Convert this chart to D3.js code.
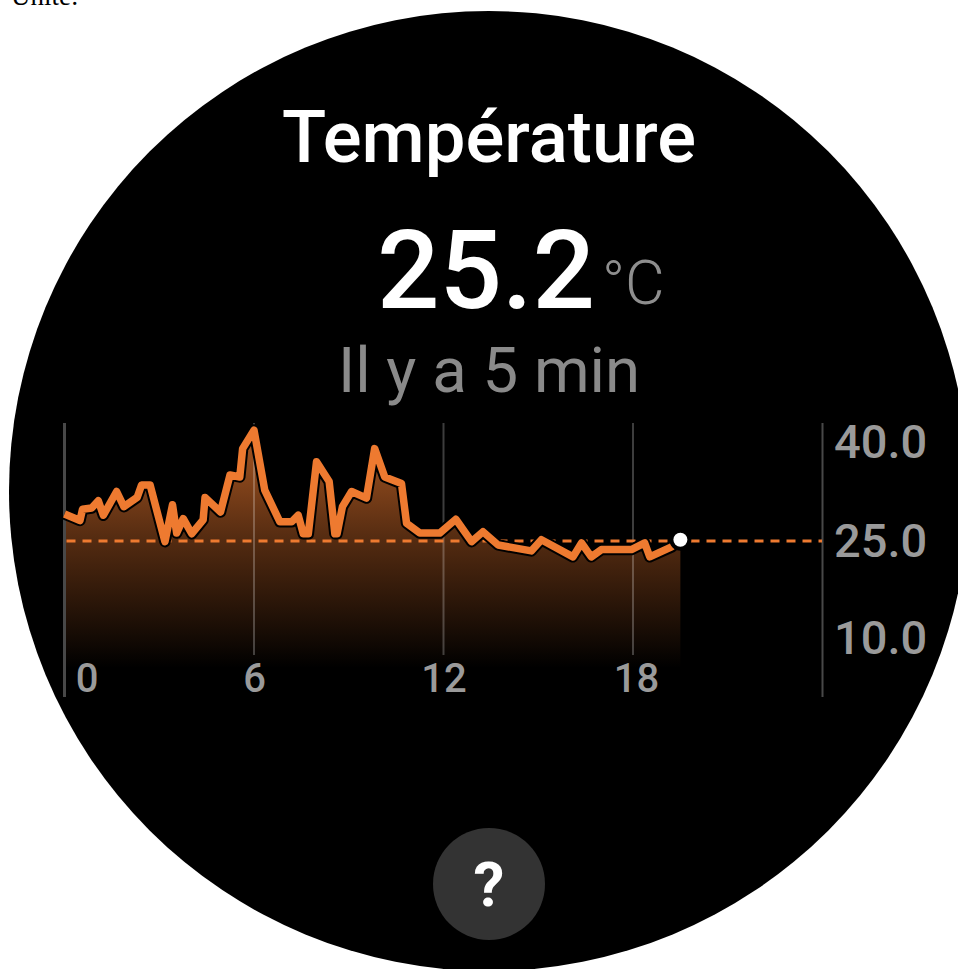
<!DOCTYPE html>
<html>
<head>
<meta charset="utf-8">
<script src="https://cdn.jsdelivr.net/npm/d3@7"></script>
<style>
  html, body { margin: 0; padding: 0; background: #fff; overflow: hidden; }
  text { font-family: Roboto, sans-serif; }
</style>
</head>
<body>
<div id="chart"></div>
<script>
// values
var hours = [0, 0.49, 0.57, 0.86, 1.07, 1.23, 1.65, 1.88, 2.3, 2.44, 2.71, 3.18, 3.42, 3.55, 3.76, 4.03,
  4.39, 4.45, 4.94, 5.24, 5.55, 5.64, 6, 6.34, 6.82, 7.19, 7.4, 7.56, 7.72, 7.98, 8.38, 8.56, 8.63, 8.8,
  9.09, 9.56, 9.82, 10.14, 10.67, 10.83, 11.25, 11.88, 12.39, 12.89, 13.25, 13.73, 14.78, 15.1, 16.1,
  16.37, 16.68, 17, 17.95, 18.37, 18.53, 19.22, 19.5]
var temps = [29.1, 28.1, 29.8, 30, 31.1, 28.9, 32.5, 30.2, 31.6, 33.5, 33.5, 24.9, 30.5, 26.2, 28.4, 26.1,
  28.2, 31.6, 29.4, 35, 34.7, 39, 41.8, 32.7, 27.9, 27.9, 28.9, 26.1, 26.1, 37, 34, 26.1, 26.1, 30.2,
  32.5, 31.5, 39, 34.7, 33.7, 27.7, 26.2, 26.2, 28.3, 24.9, 26.4, 24.4, 23.5, 25.2, 22.6,
  24.7, 22.6, 23.7, 23.7, 24.7, 22.6, 24.1, 25.2]
var hourTicks = [0, 6, 12, 18]
var tempTicks = [40, 25, 10]
var refTemp = 25

var width = 958
var height = 969
var orange = "#ee7a30"

var x = d3.scaleLinear().domain([0, 18]).range([64.5, 633])
var y = d3.scaleLinear().domain([10, 40]).range([640, 442])
var points = hours.map(function(h, i){ return [h, temps[i]] })
var last = points[points.length - 1]
var chartTop = 423
var gridBottom = 655
var areaBottom = 668
var axisBottom = 697

var svg = d3.select("#chart").append("svg")
  .attr("width", width)
  .attr("height", height)
  .style("display", "block")

// stray caption above the watch face
svg.append("text")
  .attr("x", 11)
  .attr("y", 5)
  .style("font-family", "'Liberation Serif', serif")
  .style("font-size", "27px")
  .style("fill", "#000")
  .text("Unité:")

// watch face
svg.append("circle")
  .attr("cx", 489)
  .attr("cy", 491)
  .attr("r", 480)
  .style("fill", "#000")

var defs = svg.append("defs")
var grad = defs.append("linearGradient")
  .attr("id", "areaFade")
  .attr("gradientUnits", "userSpaceOnUse")
  .attr("x1", 0).attr("x2", 0)
  .attr("y1", 430).attr("y2", areaBottom)
grad.append("stop").attr("offset", 0).attr("stop-color", orange).attr("stop-opacity", 0.72)
grad.append("stop").attr("offset", 0.45).attr("stop-color", orange).attr("stop-opacity", 0.36)
grad.append("stop").attr("offset", 1).attr("stop-color", orange).attr("stop-opacity", 0)

// header texts
svg.append("text")
  .attr("x", 489).attr("y", 162)
  .attr("text-anchor", "middle")
  .style("font-size", "72.5px")
  .style("font-weight", 500)
  .style("fill", "#fff")
  .text("Température")

svg.append("text")
  .attr("x", 377).attr("y", 308)
  .style("font-size", "110px")
  .style("font-weight", 500)
  .style("fill", "#fff")
  .text("25.2")

svg.append("text")
  .attr("x", 602).attr("y", 304)
  .style("font-size", "61px")
  .style("font-weight", 300)
  .style("fill", "#8e8e8e")
  .text("°C")

svg.append("text")
  .attr("x", 489).attr("y", 392)
  .attr("text-anchor", "middle")
  .style("font-size", "63.5px")
  .style("fill", "#8a8a8a")
  .text("Il y a 5 min")

// area under the curve
var area = d3.area()
  .x(function(d){ return x(d[0]) })
  .y0(areaBottom)
  .y1(function(d){ return y(d[1]) })

svg.append("path")
  .datum(points)
  .attr("d", area)
  .style("fill", "url(#areaFade)")

// grid lines, light enough to show through the area
svg.selectAll(".gridLine")
  .data(hourTicks.slice(1))
  .enter().append("line")
  .attr("class", "gridLine")
  .attr("x1", function(d){ return x(d) })
  .attr("x2", function(d){ return x(d) })
  .attr("y1", chartTop)
  .attr("y2", gridBottom)
  .style("stroke", "rgba(255,255,255,0.24)")
  .style("stroke-width", 2)

// left and right edges
svg.append("line")
  .attr("x1", x(0)).attr("x2", x(0))
  .attr("y1", chartTop).attr("y2", axisBottom)
  .style("stroke", "#484848")
  .style("stroke-width", 3)
svg.append("line")
  .attr("x1", 822.5).attr("x2", 822.5)
  .attr("y1", chartTop).attr("y2", axisBottom)
  .style("stroke", "#484848")
  .style("stroke-width", 2)

// dashed reference line
svg.append("line")
  .attr("x1", x(0) + 2).attr("x2", 822)
  .attr("y1", y(refTemp)).attr("y2", y(refTemp))
  .style("stroke", orange)
  .style("stroke-width", 3)
  .style("stroke-dasharray", "9 7")

var line = d3.line()
  .x(function(d){ return x(d[0]) })
  .y(function(d){ return y(d[1]) })

// black halo, then the curve on top
svg.append("path")
  .datum(points)
  .attr("d", line)
  .style("fill", "none")
  .style("stroke", "#000")
  .style("stroke-width", 11.5)
  .style("stroke-linejoin", "round")

svg.append("path")
  .datum(points)
  .attr("d", line)
  .style("fill", "none")
  .style("stroke", orange)
  .style("stroke-width", 7.5)
  .style("stroke-linejoin", "round")

// current value dot
svg.append("circle")
  .attr("cx", x(last[0]))
  .attr("cy", y(last[1]))
  .attr("r", 11)
  .style("fill", "#000")
svg.append("circle")
  .attr("cx", x(last[0]))
  .attr("cy", y(last[1]))
  .attr("r", 7)
  .style("fill", "#fff")

// axes, only the labels are kept
var xAxis = d3.axisBottom(x).tickValues(hourTicks).tickSize(0).tickFormat(d3.format("d"))
var gx = svg.append("g")
  .attr("transform", "translate(0,657)")
  .call(xAxis)
gx.select(".domain").remove()
gx.selectAll("text")
  .attr("y", 0)
  .attr("dy", "35px")
  .attr("dx", function(d){ return d == 0 ? 22 : (d == 18 ? 3 : 0) })
  .style("font-family", "Roboto, sans-serif")
  .style("font-size", "40px")
  .style("font-weight", 500)
  .style("fill", "#9a9a9a")

var yAxis = d3.axisRight(y).tickValues(tempTicks).tickSize(0).tickFormat(d3.format(".1f"))
var gy = svg.append("g")
  .attr("transform", "translate(834,0)")
  .call(yAxis)
gy.select(".domain").remove()
gy.selectAll("text")
  .attr("x", 0)
  .attr("dy", function(d){ return d == 10 ? "13px" : "15px" })
  .style("font-family", "Roboto, sans-serif")
  .style("font-size", "47px")
  .style("font-weight", 500)
  .style("fill", "#9a9a9a")

// help button
svg.append("circle")
  .attr("cx", 489)
  .attr("cy", 884)
  .attr("r", 56)
  .style("fill", "#333333")
svg.append("text")
  .attr("x", 489).attr("y", 906)
  .attr("text-anchor", "middle")
  .style("font-size", "62px")
  .style("font-weight", 700)
  .style("fill", "#fff")
  .text("?")
</script>
</body>
</html>
